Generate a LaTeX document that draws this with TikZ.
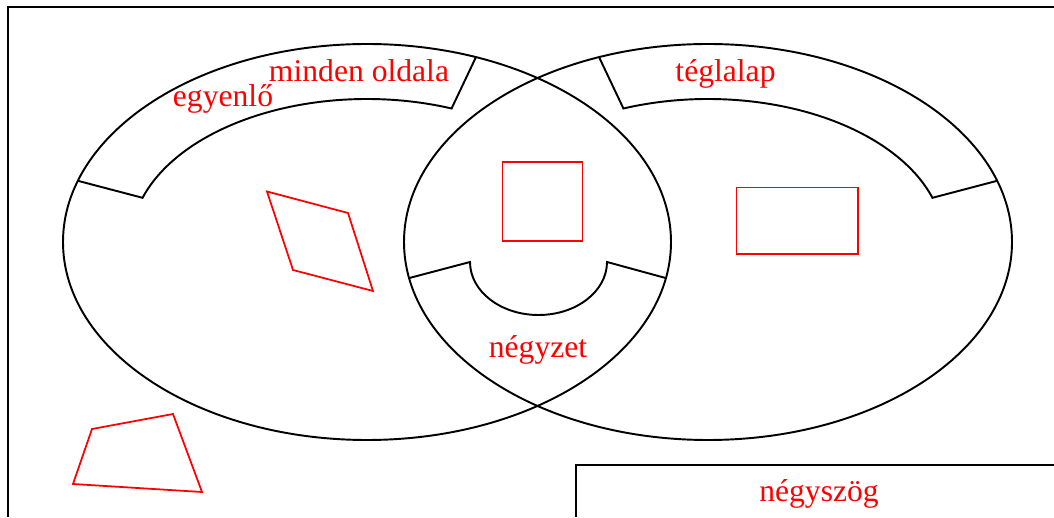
\documentclass[tikz,border=0pt]{standalone}
\usepackage{fontspec}
\setmainfont{Liberation Serif}
\usepackage{xcolor}
\usetikzlibrary{calc}

\tikzset{
  halmaz/.style={line width=1.1pt, black},
  alakzat/.style={line width=1pt, red},
  felirat/.style={red, anchor=base, inner sep=0pt, font=\fontsize{18}{21}\selectfont}
}

\begin{document}
\begin{tikzpicture}[x=0.02cm, y=0.02cm]
  \useasboundingbox (0,0) rectangle (1054,517);

  % outer frame (cut off at right and bottom)
  \draw[halmaz] (8,0) -- (8,510) -- (1054,510);

  % centres of the two sets
  \coordinate (lc) at (367,275);
  \coordinate (rc) at (708,275);

  % the two sets
  \draw[halmaz] (lc) ellipse (304 and 198);
  \draw[halmaz] (rc) ellipse (304 and 198);

  % band of the left set
  \draw[halmaz] ($(lc)+(162:304 and 198)$) -- ($(lc)+(162:236 and 143)$)
    arc[start angle=162, end angle=69, x radius=236, y radius=143]
    -- ($(lc)+(69:304 and 198)$);

  % band of the right set
  \draw[halmaz] ($(rc)+(111:304 and 198)$) -- ($(rc)+(111:236 and 143)$)
    arc[start angle=111, end angle=18, x radius=236, y radius=143]
    -- ($(rc)+(18:304 and 198)$);

  % band of the common part
  \coordinate (mc) at (538.5,255);
  \draw[halmaz] ($(rc)+(190.5:304 and 198)$) -- ($(mc)+(-68.5,0)$)
    arc[start angle=180, end angle=360, x radius=68.5, y radius=53]
    -- ($(lc)+(-10.5:304 and 198)$);

  % bottom box
  \draw[halmaz] (576,0) -- (576,52) -- (1054,52);

  % labels
  \node[felirat] (mindenoldala) at (359,435) {minden oldala};
  \node[felirat] (egyenlo) at (223,410) {egyenlő};
  \node[felirat] (teglalap) at (725.5,435) {téglalap};
  \node[felirat] (negyzet) at (538,159) {négyzet};
  \node[felirat] (negyszog) at (819,15) {négyszög};

  % figures
  \draw[alakzat] (502.5,355) rectangle (582.5,276);
  \draw[alakzat] (736.5,329.5) rectangle (858,263);
  \draw[alakzat] (267,325.5) -- (348,304) -- (373,226) -- (293,247) -- cycle;
  \draw[alakzat] (92,88) -- (173,103) -- (202,25) -- (73,33) -- cycle;
\end{tikzpicture}
\end{document}
